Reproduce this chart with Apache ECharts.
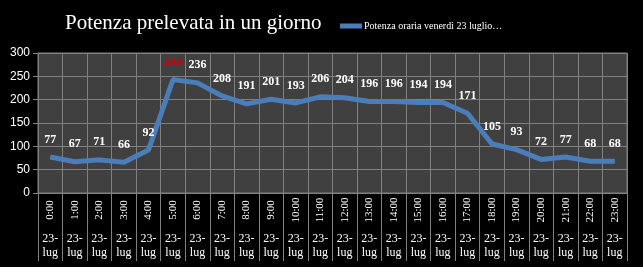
<!DOCTYPE html>
<html><head><meta charset="utf-8">
<script src="https://cdn.jsdelivr.net/npm/echarts@6/dist/echarts.min.js"></script>
<style>html,body{margin:0;padding:0;background:#000}#c{width:643px;height:267px}</style>
</head><body><div id="c"></div>
<script>
var hours = ['0:00','1:00','2:00','3:00','4:00','5:00','6:00','7:00','8:00','9:00','10:00','11:00','12:00','13:00','14:00','15:00','16:00','17:00','18:00','19:00','20:00','21:00','22:00','23:00'];
var dayLabel = '23-\nlug';
var values = [77,67,71,66,92,243,236,208,191,201,193,206,204,196,196,194,194,171,105,93,72,77,68,68];
var seriesName = 'Potenza oraria venerdì 23 luglio…';
var titleText = 'Potenza prelevata in un giorno';
var highlightIndex = 5;

var serif = '"Liberation Serif","DejaVu Serif",serif';
var data = values.map(function(v,i){
  if (i === highlightIndex) {
    return {value: v, label: {color:'#d00000', fontStyle:'italic'}};
  }
  return v;
});
var chart = echarts.init(document.getElementById('c'));
chart.setOption({
  backgroundColor:'#000',
  animation:false,
  title:{text:titleText, left:60, top:8, textStyle:{color:'#fff', fontFamily:serif, fontSize:21, fontWeight:'normal'}},
  legend:{show:true, left:335, top:16, itemWidth:22, itemHeight:5, itemGap:2,
    icon:'rect',
    textStyle:{color:'#fff', fontFamily:serif, fontSize:10, padding:[0,0,0,-3]},
    data:[seriesName]},
  grid:{left:38, right:16, top:53, bottom:74, show:true, backgroundColor:'#404040', borderColor:'#808080', borderWidth:1},
  xAxis:[{
    type:'category', data:hours, boundaryGap:true,
    axisLine:{show:true, lineStyle:{color:'#808080'}},
    axisTick:{show:true, interval:0, length:68, lineStyle:{color:'#808080'}},
    splitLine:{show:true, interval:0, lineStyle:{color:'#808080', width:1}},
    axisLabel:{interval:0, rotate:90, align:'center', verticalAlign:'middle', margin:17, color:'#fff', fontFamily:serif, fontSize:11}
  },{
    type:'category', data:hours.map(function(){return dayLabel;}), position:'bottom', boundaryGap:true,
    axisLine:{show:false}, axisTick:{show:false}, splitLine:{show:false},
    axisLabel:{interval:0, margin:39, color:'#fff', fontFamily:serif, fontSize:12, lineHeight:14}
  }],
  yAxis:{type:'value', min:0, max:300, interval:50,
    axisLine:{show:true, lineStyle:{color:'#808080'}},
    axisTick:{show:true, length:5, lineStyle:{color:'#808080'}},
    splitLine:{show:true, lineStyle:{color:'#808080', width:1}},
    axisLabel:{color:'#fff', fontFamily:'"Liberation Sans","DejaVu Sans",sans-serif', fontSize:12, margin:8}
  },
  series:[{
    name:seriesName, type:'line', data:data, xAxisIndex:0,
    showSymbol:true, symbol:'circle', symbolSize:1,
    lineStyle:{color:'#4a7ebb', width:5},
    itemStyle:{color:'#4a7ebb'},
    label:{show:true, position:'top', distance:11, color:'#fff', fontFamily:serif, fontSize:12, fontWeight:'bold'}
  }]
});
</script></body></html>
